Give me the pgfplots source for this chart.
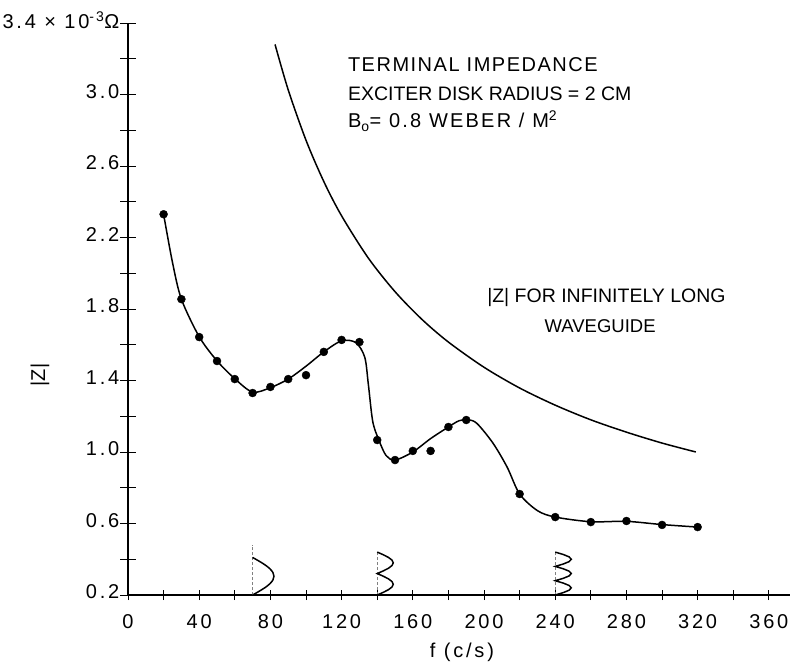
\documentclass[border=0pt]{standalone}
\usepackage{pgfplots}
\pgfplotsset{compat=1.18}
\usepackage{fontspec}
\setmainfont{Liberation Sans}
\newcommand{\lbl}{\fontsize{20}{24}\selectfont}
\newcommand{\tkl}{\fontsize{20}{24}\selectfont\addfontfeatures{LetterSpace=14}}
\begin{document}
\begin{tikzpicture}
\useasboundingbox (-128pt,-74pt) rectangle (672pt,595pt);
\begin{axis}[
  scale only axis,
  width=662.2pt, height=572pt,
  xmin=0, xmax=372, ymin=0.2, ymax=3.4,
  axis x line=bottom, axis y line=left,
  axis line style={-, line width=1.6pt},
  clip=false,
  xtick={0,20,...,360},
  xticklabels={0,,40,,80,,120,,160,,200,,240,,280,,320,,360},
  ytick={0.2,0.4,...,3.41},
  yticklabels={0.2,,0.6,,1.0,,1.4,,1.8,,2.2,,2.6,,3.0,,{3.4 × 10\textsuperscript{-3}Ω}},
  tick style={line width=0.9pt, black},
  major tick length=15pt,
  x tick style={/pgfplots/major tick length=10pt},
  tick label style={font=\tkl},
  xticklabel style={yshift=-8pt},
  yticklabel style={inner sep=1pt, yshift=3pt},
]
% smooth fitted curve (terminal impedance)
\addplot[black, line width=1.5pt, smooth, tension=0.5] coordinates {
(20,2.33) (25,2.06) (30,1.855) (40,1.645) (50,1.51) (60,1.41) (70,1.335)
(80,1.36) (90,1.408) (100,1.48) (110,1.56) (120,1.622) (128,1.612)
(133,1.53) (135,1.38) (137.5,1.17) (141,1.065) (145,0.98) (150,0.955)
(160,1.0) (170,1.075) (180,1.14) (186,1.175) (191,1.18) (196,1.16)
(205,1.05) (213,0.915) (220,0.765) (230,0.672) (240,0.636) (260,0.61)
(280,0.612) (300,0.594) (320,0.58)};
% measured points
\addplot[only marks, mark=*, mark size=4pt, black] coordinates {
(20,2.33) (30,1.855) (40,1.643) (50,1.509) (60,1.408) (70,1.33) (80,1.364)
(90,1.408) (100,1.43) (110,1.56) (120,1.627) (130,1.615) (140,1.067)
(150,0.955) (160,1.006) (170,1.006) (180,1.14) (190,1.179) (220,0.765)
(240,0.636) (260,0.608) (280,0.614) (300,0.592) (320,0.58)};
% infinitely long waveguide
\addplot[black, line width=1.5pt, smooth] coordinates {
(82.6,3.28) (90,3.026) (100,2.744) (110,2.513) (120,2.321) (135,2.085)
(150,1.897) (165,1.743) (180,1.615) (200,1.474) (220,1.358) (240,1.262)
(260,1.180) (280,1.111) (300,1.050) (319,1.0)};
% mode markers
\addplot[gray, line width=0.7pt, densely dashed] coordinates {(70,0.2) (70,0.48)};
\addplot[gray, line width=0.7pt, densely dashed] coordinates {(140,0.2) (140,0.45)};
\addplot[gray, line width=0.7pt, densely dashed] coordinates {(240,0.2) (240,0.45)};
\addplot[black, line width=1.5pt, smooth] coordinates {
(70,0.2) (73.7,0.221) (77.06,0.242) (79.7,0.263) (81.4,0.284) (82,0.305)
(81.4,0.326) (79.7,0.347) (77.06,0.368) (73.7,0.389) (70,0.41)};
\addplot[black, line width=1.5pt] coordinates {
(140,0.2) (143.45,0.215) (146.36,0.23) (148.32,0.245) (149,0.26) (148.32,0.275)
(146.36,0.29) (143.45,0.305) (140,0.32) (143.45,0.335) (146.36,0.35)
(148.32,0.365) (149,0.38) (148.32,0.395) (146.36,0.41) (143.45,0.425) (140,0.44)};
\addplot[black, line width=1.5pt] coordinates {
(240,0.2) (244.5,0.2133) (247.8,0.2267) (249,0.24) (247.8,0.2533) (244.5,0.2667)
(240,0.28) (244.5,0.2933) (247.8,0.3067) (249,0.32) (247.8,0.3333) (244.5,0.3467)
(240,0.36) (244.5,0.3733) (247.8,0.3867) (249,0.4) (247.8,0.4133) (244.5,0.4267) (240,0.44)};
% annotations
\node[anchor=base west, font=\lbl\addfontfeatures{LetterSpace=7.5}, inner sep=0pt] at (axis cs:123.5,3.126) {TERMINAL IMPEDANCE};
\node[anchor=base west, font=\fontsize{19.5}{24}\selectfont, inner sep=0pt] at (axis cs:123.5,2.969) {EXCITER DISK RADIUS = 2 CM};
\node[anchor=base west, font=\lbl\addfontfeatures{LetterSpace=11}, inner sep=0pt] at (axis cs:123.5,2.813) {B\textsubscript{o}= 0.8 WEBER / M\textsuperscript{2}};
\node[anchor=base west, font=\fontsize{19.5}{24}\selectfont, inner sep=0pt] at (axis cs:201.7,1.834) {|Z| FOR INFINITELY LONG};
\node[anchor=base, font=\fontsize{18.5}{24}\selectfont, inner sep=0pt] at (axis cs:265.2,1.671) {WAVEGUIDE};
\node[rotate=90, font=\lbl] at (axis cs:-49.4,1.431) {|Z|};
\node[font=\tkl] at (axis cs:187.6,-0.119) {f (c/s)};
\end{axis}
\end{tikzpicture}
\end{document}
